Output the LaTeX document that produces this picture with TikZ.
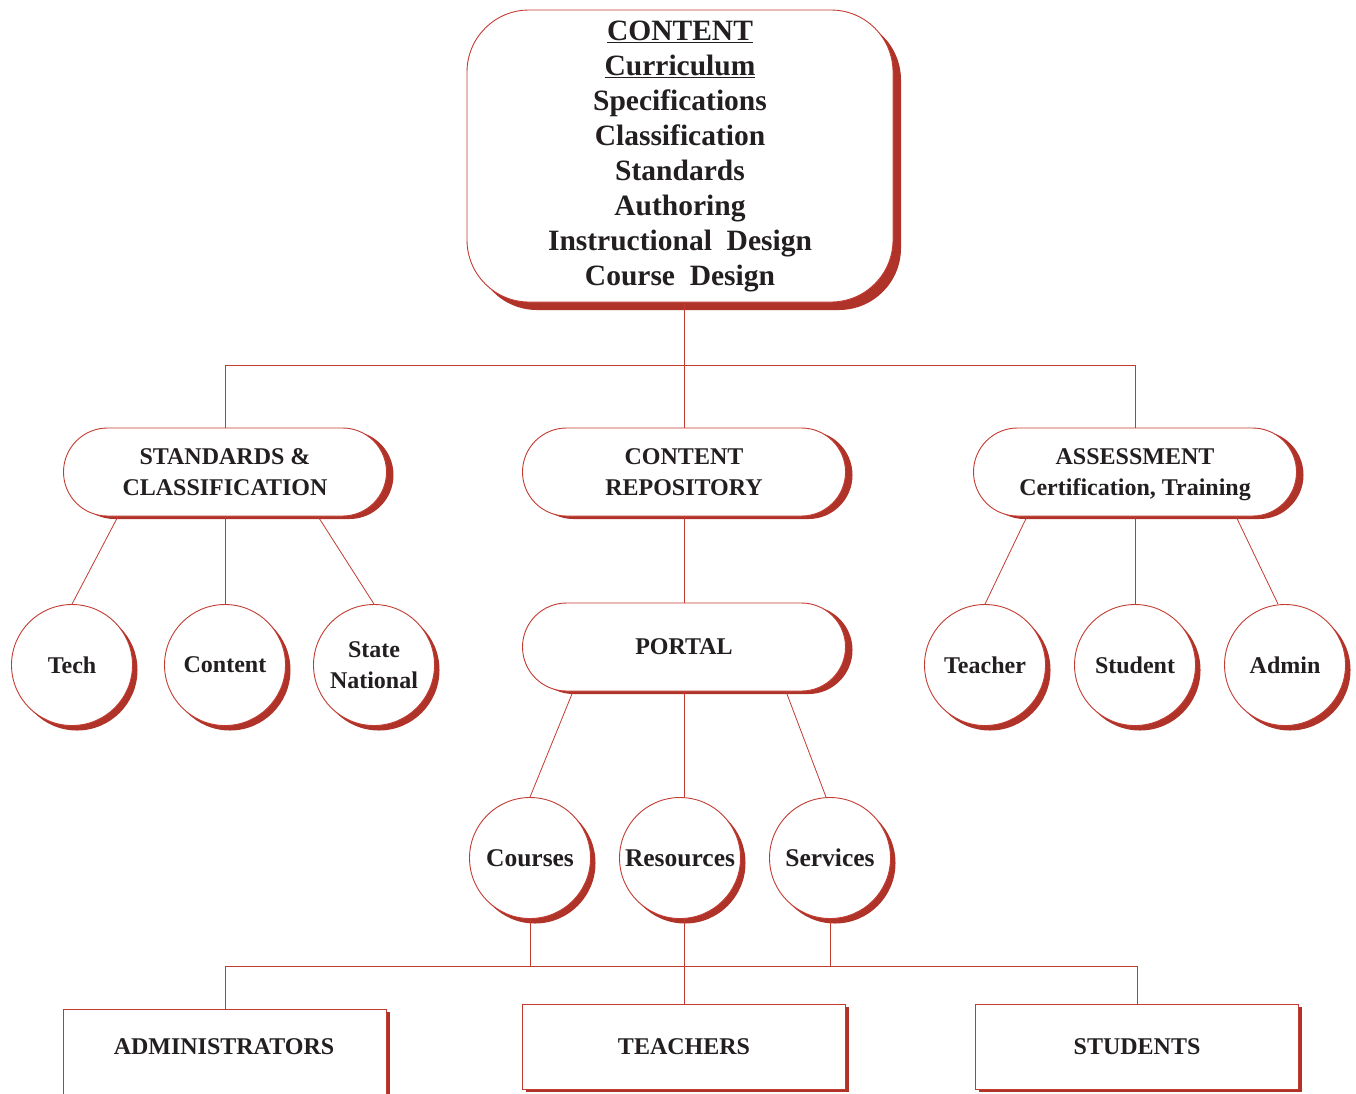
\documentclass[tikz,border=0pt]{standalone}
\usepackage{fontspec}
\setmainfont{Liberation Serif}
\usetikzlibrary{shadows}
\definecolor{lred}{HTML}{C23B30}
\definecolor{sred}{HTML}{B03329}
\definecolor{ink}{HTML}{231F20}
\begin{document}
\begin{tikzpicture}[x=1pt,y=-1pt,
  every node/.style={font=\bfseries\fontsize{24}{31}\selectfont, text=ink, align=center},
  topbox/.style={draw=lred, line width=0.9pt, fill=white, rounded corners=62pt,
    minimum width=426pt, minimum height=292pt, inner sep=0pt,
    font=\bfseries\fontsize{29.5}{35}\selectfont,
    general shadow={fill=sred, shadow xshift=8pt, shadow yshift=-8pt}},
  oval/.style={draw=lred, line width=0.9pt, fill=white, rounded corners=44pt,
    minimum width=323pt, minimum height=88pt, inner sep=0pt, text depth=0pt,
    general shadow={fill=sred, shadow xshift=7pt, shadow yshift=-3pt}},
  bub/.style={circle, draw=lred, line width=0.9pt, fill=white, minimum size=121pt,
    inner sep=0pt, general shadow={fill=sred, shadow xshift=5pt, shadow yshift=-5pt}},
  bigbub/.style={bub, font=\bfseries\fontsize{25.5}{31}\selectfont},
  rbox/.style={draw=lred, line width=1pt, fill=white, minimum width=323pt,
    minimum height=85pt, inner sep=0pt,
    general shadow={fill=sred, shadow xshift=3.5pt, shadow yshift=-2.5pt}},
  conn/.style={draw=lred, line width=0.8pt}
]
\useasboundingbox (0,0) rectangle (1356,1093);
\clip (0,0) rectangle (1356,1093);

% top box
\node[topbox] (top) at (680,156) {\underline{CONTENT}\\\underline{Curriculum}\\Specifications\\Classification\\Standards\\Authoring\\Instructional\ \ Design\\Course\ \ Design};

% second level ovals
\node[oval] (std) at (225,472) {STANDARDS \&\\CLASSIFICATION};
\node[oval] (rep) at (684,472) {CONTENT\\REPOSITORY};
\node[oval] (asm) at (1135,472) {ASSESSMENT\\Certification, Training};

% junction coordinates
\coordinate (hl) at (225,365);
\coordinate (hr) at (1135,365);
\coordinate (bl) at (225,966);
\coordinate (br) at (1137,966);

% left circles
\node[bub] (tech) at (72,665) {Tech};
\node[bub] (cont) at (225,665) {Content};
\node[bub] (state) at (374,665) {State\\National};

% right circles
\node[bub] (teach) at (985,665) {Teacher};
\node[bub] (stud) at (1135,665) {Student};
\node[bub] (adm) at (1285,665) {Admin};

% portal
\node[oval] (portal) at (684,647) {PORTAL};

% portal circles
\node[bigbub] (courses) at (530,858) {Courses};
\node[bigbub] (res) at (680,858) {Resources};
\node[bigbub] (serv) at (830,858) {Services};

% bottom boxes
\node[rbox, minimum height=120pt] (admins) at (225,1069) {};
\node (adminstext) at (224,1047) {ADMINISTRATORS};
\node[rbox] (teachers) at (684,1047) {TEACHERS};
\node[rbox] (students) at (1137,1047) {STUDENTS};

% connectors (top)
\draw[conn] (rep.north |- top.south) -- (rep.north);
\draw[conn] (std.north) -- (hl) -- (hr) -- (asm.north);

% left group
\draw[conn] ([xshift=-107pt]std.south) -- (tech.north);
\draw[conn] (std.south) -- (cont.north);
\draw[conn] ([xshift=93pt]std.south) -- (state.north);

% right group
\draw[conn] ([xshift=-108pt]asm.south) -- (teach.north);
\draw[conn] (asm.south) -- (stud.north);
\draw[conn] ([xshift=101pt]asm.south) -- ([xshift=-7pt]adm.north);

% middle
\draw[conn] (rep.south) -- (portal.north);
\draw[conn] ([xshift=-111pt]portal.south) -- (courses.north);
\draw[conn] (portal.south) -- (res.north -| portal.south);
\draw[conn] ([xshift=102pt]portal.south) -- ([xshift=-4pt]serv.north);

% bottom
\draw[conn] (courses.south) -- (courses.south |- bl);
\draw[conn] (teachers.north |- res.south) -- (teachers.north);
\draw[conn] (serv.south) -- (serv.south |- bl);
\draw[conn] (admins.north) -- (bl) -- (br) -- (students.north);
\end{tikzpicture}
\end{document}
